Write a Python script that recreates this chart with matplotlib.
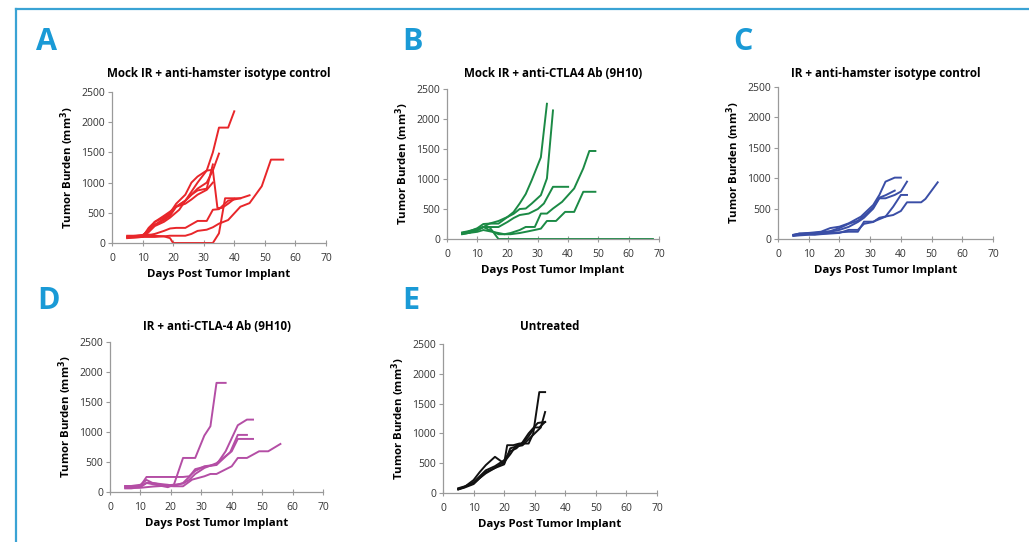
import matplotlib
matplotlib.use('Agg')
import matplotlib.pyplot as plt
from matplotlib.lines import Line2D

plt.rcParams['font.family'] = ['Open Sans', 'DejaVu Sans']

# panel A: Mock IR + anti-hamster isotype control
a_days = [
    [5, 7, 10, 12, 14, 17, 19, 21, 24, 26, 28, 31, 33, 35, 38, 40],
    [5, 7, 10, 12, 14, 17, 19, 21, 24, 26, 28, 31, 33, 34.5, 36, 38, 40],
    [5, 7, 10, 12, 14, 17, 19, 21, 24, 26, 28, 31, 33, 35],
    [5, 7, 10, 12, 14, 17, 19, 21, 24, 26, 28, 31, 33, 35, 38, 42, 45, 49, 52, 56],
    [5, 7, 10, 12, 14, 17, 19, 20, 22, 26, 30, 33, 35, 37, 40, 42],
    [5, 7, 10, 12, 14, 17, 19, 21, 24, 28, 31, 33, 35, 38, 42, 45],
    [5, 7, 10, 12, 14, 17, 19, 21, 24, 26, 28, 31, 33],
    [5, 7, 10, 12, 14, 17, 19, 22, 24, 26, 28, 31, 33],
]
a_vals = [
    [100, 100, 110, 200, 350, 450, 520, 600, 700, 850, 1000, 1200, 1500, 1910, 1910, 2180],
    [80, 90, 100, 250, 350, 420, 500, 650, 800, 1000, 1100, 1200, 1210, 580, 580, 650, 730],
    [90, 100, 120, 220, 300, 380, 450, 600, 700, 800, 900, 1000, 1200, 1480],
    [100, 100, 100, 100, 100, 110, 120, 120, 120, 150, 200, 220, 260, 320, 380, 600, 660, 940, 1380, 1380],
    [120, 120, 130, 140, 120, 110, 80, 0, 0, 0, 0, 0, 160, 740, 740, 740],
    [110, 110, 120, 130, 150, 200, 240, 250, 250, 365, 365, 550, 560, 700, 740, 790],
    [100, 110, 130, 200, 300, 400, 480, 600, 650, 720, 800, 880, 1000],
    [90, 90, 100, 180, 280, 350, 420, 550, 700, 800, 870, 900, 1300],
]

# panel B: Mock IR + anti-CTLA4 Ab (9H10)
b_days = [
    [5, 7, 10, 12, 14, 17, 20, 22, 24, 26, 28, 31, 33],
    [5, 7, 10, 12, 14, 17, 20, 22, 24, 26, 28, 31, 33, 35],
    [5, 7, 10, 12, 14, 17, 20, 22, 24, 27, 30, 32, 35, 40],
    [5, 7, 10, 12, 14, 17, 19, 21, 24, 26, 29, 31, 33, 35, 38, 42, 45, 47, 49],
    [5, 7, 10, 12, 14, 17, 19, 21, 24, 27, 31, 33, 36, 39, 42, 45, 49],
    [5, 7, 10, 12, 14, 17, 68],
]
b_vals = [
    [90, 100, 150, 200, 257, 300, 368, 450, 592, 750, 982, 1362, 2254],
    [100, 120, 180, 250, 257, 257, 368, 420, 500, 508, 592, 731, 1010, 2143],
    [110, 130, 170, 200, 200, 200, 285, 350, 400, 424, 500, 592, 870, 870],
    [80, 100, 150, 200, 150, 80, 80, 100, 150, 201, 201, 424, 424, 508, 619, 843, 1177, 1467, 1467],
    [90, 100, 120, 150, 130, 100, 80, 80, 100, 130, 173, 301, 301, 452, 452, 787, 787],
    [100, 120, 150, 200, 200, 0, 0],
]

# panel C: IR + anti-hamster isotype control
c_days = [
    [5, 7, 10, 12, 14, 17, 20, 23, 27, 31, 33, 35, 38, 40],
    [5, 7, 10, 12, 14, 17, 20, 23, 26, 28, 31, 33, 35, 38, 40, 42],
    [5, 7, 10, 12, 14, 17, 20, 23, 26, 28, 31, 33, 35, 38],
    [5, 7, 10, 12, 14, 17, 20, 23, 26, 28, 31, 35, 37.5, 40, 42],
    [5, 7, 10, 12, 14, 17, 20, 23, 26, 28, 31, 33, 35, 37.5, 40, 42, 46.6, 48, 52],
]
c_vals = [
    [66, 90, 100, 110, 120, 180, 203, 258, 368, 560, 725, 944, 1010, 1010],
    [60, 80, 100, 90, 100, 120, 150, 200, 280, 350, 500, 670, 670, 725, 780, 944],
    [70, 90, 80, 100, 110, 130, 180, 250, 300, 380, 520, 680, 720, 796],
    [60, 70, 80, 80, 90, 100, 110, 120, 120, 285, 285, 368, 532, 725, 725],
    [50, 60, 70, 70, 80, 90, 100, 150, 150, 250, 280, 350, 370, 395, 461, 604, 604, 659, 933],
]

# panel D: IR + anti-CTLA-4 Ab (9H10)
d_days = [
    [5, 7, 10, 12, 14, 17, 19, 21, 24, 28, 31, 33, 35, 38],
    [5, 7, 10, 12, 14, 17, 19, 21, 24, 26, 28, 31, 35, 38, 42, 45, 47],
    [5, 7, 10, 12, 14, 17, 19, 21, 24, 26, 28, 31, 35, 39.5, 42, 45],
    [5, 7, 10, 12, 14, 17, 19, 21, 24, 26, 28, 31, 35, 40, 42, 47],
    [5, 7, 10, 12, 14, 17, 19, 21, 24, 27, 31, 33, 35, 40, 42, 45, 49, 52, 56],
]
d_vals = [
    [100, 100, 100, 150, 150, 120, 110, 122, 567, 567, 940, 1095, 1818, 1818],
    [80, 80, 100, 250, 250, 250, 250, 250, 250, 261, 350, 428, 456, 678, 1112, 1206, 1206],
    [100, 100, 120, 200, 150, 130, 120, 100, 150, 250, 380, 420, 450, 662, 951, 951],
    [60, 60, 80, 150, 130, 100, 80, 120, 140, 200, 300, 400, 480, 678, 884, 884],
    [70, 70, 70, 80, 90, 100, 100, 95, 95, 206, 261, 300, 300, 428, 567, 567, 678, 678, 800],
]

# panel E: Untreated
e_days = [
    [5, 7, 10, 12, 14, 17, 20, 21, 23, 25, 28, 29.5, 31.5, 33.4],
    [5, 7, 10, 12, 14, 17, 20, 22, 24, 26, 28, 30, 32, 33.4],
    [5, 7, 10, 12, 14, 17, 20, 22, 24, 26, 28, 31, 33.4],
    [5, 7, 10, 12, 14, 17, 20, 22, 24, 26, 28, 30, 31.5, 33.4],
]
e_vals = [
    [61, 100, 217, 350, 468, 607, 496, 802, 802, 830, 830, 997, 1693, 1693],
    [60, 90, 150, 250, 350, 420, 480, 750, 780, 800, 900, 1000, 1100, 1359],
    [70, 100, 180, 280, 380, 450, 550, 700, 750, 850, 1000, 1175, 1192],
    [80, 110, 160, 250, 330, 420, 520, 650, 800, 830, 950, 1100, 1100, 1192],
]

blue = '#1a9ad6'
W, H = 1029.0, 542.0
# letter, title, days, values, colour, axes rect, letter pos (px), title y (px)
panels = [
    ('A', 'Mock IR + anti-hamster isotype control', a_days, a_vals, '#e8262a',
     [0.1088, 0.5517, 0.2080, 0.2786], (36, 42), 73),
    ('B', 'Mock IR + anti-CTLA4 Ab (9H10)', b_days, b_vals, '#1b8a45',
     [0.4344, 0.5590, 0.2060, 0.2768], (402, 42), 73),
    ('C', 'IR + anti-hamster isotype control', c_days, c_vals, '#3a4ea6',
     [0.7561, 0.5590, 0.2089, 0.2804], (733, 42), 74),
    ('D', 'IR + anti-CTLA-4 Ab (9H10)', d_days, d_vals, '#b44ea5',
     [0.1069, 0.0923, 0.2070, 0.2768], (37, 301), 326),
    ('E', 'Untreated', e_days, e_vals, '#111111',
     [0.4305, 0.0904, 0.2080, 0.2749], (402, 301), 326),
]

fig = plt.figure(figsize=(10.29, 5.42), dpi=100)

# frame lines (top and left)
fig.add_artist(Line2D([0.0160, 1.0], [0.9825, 0.9825], color='#3aa3d4', lw=1.6))
fig.add_artist(Line2D([0.0160, 0.0160], [0.0, 0.9825], color='#3aa3d4', lw=1.6))

for letter, title, days, vals, color, rect, lpos, ty in panels:
    ax = fig.add_axes(rect)
    for x, y in zip(days, vals):
        ax.plot(x, y, color=color, lw=1.4)
    ax.set_xlim(0, 70)
    ax.set_ylim(0, 2500)
    ax.set_xticks(range(0, 71, 10))
    ax.set_yticks(range(0, 2501, 500))
    for s in ['top', 'right']:
        ax.spines[s].set_visible(False)
    for s in ['left', 'bottom']:
        ax.spines[s].set_color('#9a9a9a')
        ax.spines[s].set_linewidth(0.9)
    ax.tick_params(axis='x', direction='inout', length=5, width=0.8, color='#9a9a9a',
                   labelsize=7.5, labelcolor='#333333', pad=5)
    ax.tick_params(axis='y', direction='out', length=3, width=0.8, color='#9a9a9a',
                   labelsize=7.5, labelcolor='#333333', pad=2)
    ax.set_xlabel('Days Post Tumor Implant', fontsize=8.2, fontweight='bold', labelpad=3)
    ax.set_ylabel('Tumor Burden (mm$^\\mathbf{3}$)', fontsize=8.2, fontweight='bold', labelpad=4)
    fig.text(rect[0] + rect[2] / 2, 1 - ty / H, title, fontsize=8.4, fontweight='bold',
             ha='center', va='center')
    fig.text(lpos[0] / W, 1 - lpos[1] / H, letter, color=blue, fontsize=22,
             fontweight='bold', va='center', ha='left')

fig.savefig('out.png', dpi=100)
